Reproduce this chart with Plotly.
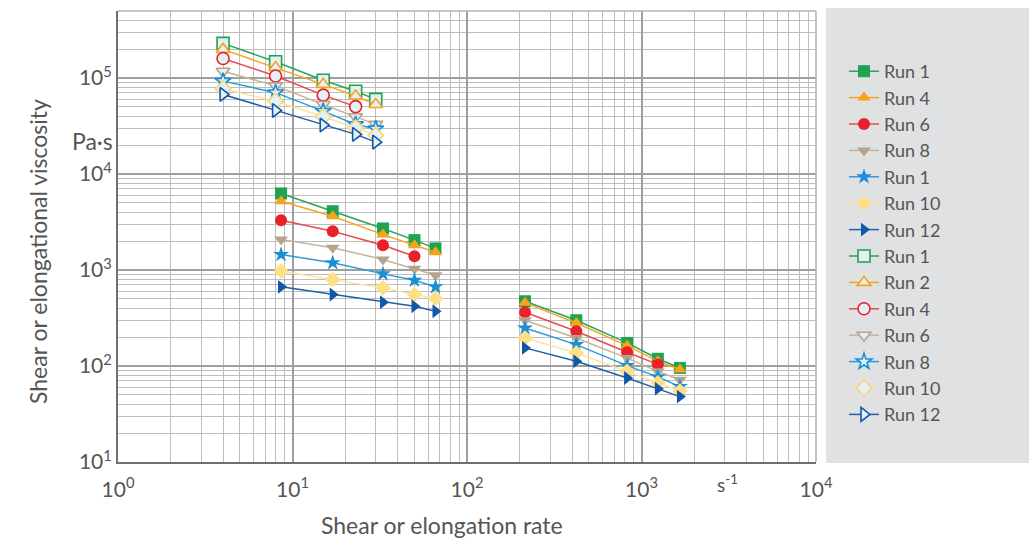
import plotly.graph_objects as go

# ---------------- data ----------------
elong_rate = [4, 8, 15, 23, 30]            # upper cluster (open markers)
shear_rate_mid = [8.6, 17, 33, 50, 66]     # middle cluster (filled markers)
shear_rate_high = [215, 423, 827, 1241, 1660]  # lower-right cluster (filled markers)

filled_names = ["Run 1", "Run 4", "Run 6", "Run 8", "Run 1", "Run 10", "Run 12"]
filled_mid = [
    [6280, 4100, 2710, 2050, 1680],
    [5210, 3640, 2340, 1810, 1530],
    [3300, 2540, 1810, 1390],
    [2080, 1710, 1290, 1030, 883],
    [1450, 1190, 912, 783, 668],
    [971, 796, 652, 556, 505],
    [668, 556, 462, 420, 372],
]
filled_high = [
    [473, 300, 174, 119, 95.5],
    [455, 281, 163, 112, 92],
    [363, 230, 139, 104],
    [300, 196, 121, 88, 72],
    [249, 167, 101, 77, 61],
    [196, 137, 88, 67, 55],
    [154.5, 112, 75, 58, 48],
]

open_names = ["Run 1", "Run 2", "Run 4", "Run 6", "Run 8", "Run 10", "Run 12"]
open_vals = [
    [230000, 148000, 95000, 73000, 60000],
    [199000, 129000, 86000, 65000, 53000],
    [160000, 105000, 66500, 50400],
    [118000, 83000, 53000, 39600, 32900],
    [93000, 70500, 45300, 32900, 29700],
    [77500, 57500, 39600, 30400, 25300],
    [67600, 46000, 32400, 25900, 21500],
]

x_tick_vals = [1, 10, 100, 1000, 10000]
x_tick_text = ["10<sup>0</sup>", "10<sup>1</sup>", "10<sup>2</sup>", "10<sup>3</sup>", "10<sup>4</sup>"]
y_tick_vals = [10, 100, 1000, 10000, 100000]
y_tick_text = ["10<sup>1</sup>", "10<sup>2</sup>", "10<sup>3</sup>", "10<sup>4</sup>", "10<sup>5</sup>"]

# ---------------- styles ----------------
marker_colors = ["#1fa34f", "#f7a31b", "#e8212b", "#b5a48b", "#1b8fd2", "#fddf86", "#1257a8"]
line_colors = ["#2aa35a", "#f5a623", "#e84a4f", "#c4b49e", "#2a9ad6", "#fde39a", "#1f5fa8"]
symbols = ["square", "triangle-up", "circle", "triangle-down", "star", "diamond", "triangle-right"]
open_fill = "#e3f0f5"
text_color = "#555555"
FONT = "Lato"

fig = go.Figure()

for i, name in enumerate(filled_names):
    n_mid = len(filled_mid[i])
    n_high = len(filled_high[i])
    xs = shear_rate_mid[:n_mid] + [None] + shear_rate_high[:n_high]
    ys = filled_mid[i] + [None] + filled_high[i]
    fig.add_trace(go.Scatter(
        x=xs, y=ys, name=name, mode="lines+markers",
        line=dict(color=line_colors[i], width=1.5),
        marker=dict(symbol=symbols[i], color=marker_colors[i], size=12,
                    line=dict(width=0)),
        connectgaps=False,
    ))

for i, name in enumerate(open_names):
    n = len(open_vals[i])
    fig.add_trace(go.Scatter(
        x=elong_rate[:n], y=open_vals[i], name=name, mode="lines+markers",
        line=dict(color=line_colors[i], width=1.5),
        marker=dict(symbol=symbols[i], color=open_fill, size=12,
                    line=dict(width=1.6, color=marker_colors[i] if i != 5 else "#f7d77a")),
    ))

# minor grid values (2..9 per decade)
x_minor = [m * 10 ** d for d in range(0, 4) for m in range(2, 10)]
y_minor = [m * 10 ** d for d in range(1, 6) for m in range(2, 10) if m * 10 ** d <= 500000]

L, R, T, B = 118, 816, 11, 462
W, H = 1029, 540


def px_x(p):
    return (p - L) / (R - L)


def px_y(p):
    return (B - p) / (B - T)


fig.update_layout(
    width=W, height=H,
    margin=dict(l=L, r=W - R, t=T, b=H - B, pad=0),
    paper_bgcolor="white", plot_bgcolor="white",
    font=dict(family=FONT, color=text_color, size=20),
    showlegend=True,
    legend=dict(
        x=px_x(844), y=px_y(53), xanchor="left", yanchor="top",
        bgcolor="rgba(0,0,0,0)", borderwidth=0,
        font=dict(family=FONT, size=18, color=text_color),
        tracegroupgap=0,
    ),
    xaxis=dict(
        type="log", range=[0, 4],
        tickmode="array", tickvals=x_tick_vals, ticktext=x_tick_text,
        ticks="", ticklabelstandoff=8,
        showgrid=True, gridcolor="#9f9f9f", gridwidth=1.6,
        minor=dict(tickmode="array", tickvals=x_minor, showgrid=True,
                   gridcolor="#bdbdbd", gridwidth=1.4, ticks=""),
        showline=True, linecolor="#707070", linewidth=2,
        zeroline=False,
        tickfont=dict(family=FONT, size=21, color=text_color),
    ),
    yaxis=dict(
        type="log", range=[1, 5.69897],
        tickmode="array", tickvals=y_tick_vals, ticktext=y_tick_text,
        ticks="", ticklabelstandoff=0,
        showgrid=True, gridcolor="#9f9f9f", gridwidth=1.6,
        minor=dict(tickmode="array", tickvals=y_minor, showgrid=True,
                   gridcolor="#bdbdbd", gridwidth=1.4, ticks=""),
        showline=True, linecolor="#707070", linewidth=2,
        zeroline=False,
        tickfont=dict(family=FONT, size=21, color=text_color),
    ),
    shapes=[
        dict(type="rect", xref="paper", yref="paper",
             x0=px_x(826), x1=px_x(1040), y0=px_y(463), y1=px_y(8),
             fillcolor="#e0e1e3", line=dict(width=0), layer="below"),
        dict(type="line", xref="paper", yref="paper", x0=0, x1=1, y0=1, y1=1,
             line=dict(color="#b5b5b5", width=1.6)),
        dict(type="line", xref="paper", yref="paper", x0=1, x1=1, y0=0, y1=1,
             line=dict(color="#b5b5b5", width=1.6)),
    ],
    annotations=[
        dict(text="Shear or elongational viscosity", xref="paper", yref="paper",
             x=px_x(38), y=px_y(252), textangle=-90, showarrow=False,
             xanchor="center", yanchor="middle",
             font=dict(family=FONT, size=23, color=text_color)),
        dict(text="Shear or elongation rate", xref="paper", yref="paper",
             x=px_x(442), y=px_y(525), showarrow=False,
             xanchor="center", yanchor="middle",
             font=dict(family=FONT, size=23, color=text_color)),
        dict(text="Pa·s", xref="paper", yref="paper",
             x=px_x(92), y=px_y(141), showarrow=False,
             xanchor="center", yanchor="middle",
             font=dict(family=FONT, size=23, color=text_color)),
        dict(text="s<sup>-1</sup>", xref="paper", yref="paper",
             x=px_x(727), y=px_y(483), showarrow=False,
             xanchor="center", yanchor="middle",
             font=dict(family=FONT, size=19, color=text_color)),
    ],
)

fig.write_html("out.html")
